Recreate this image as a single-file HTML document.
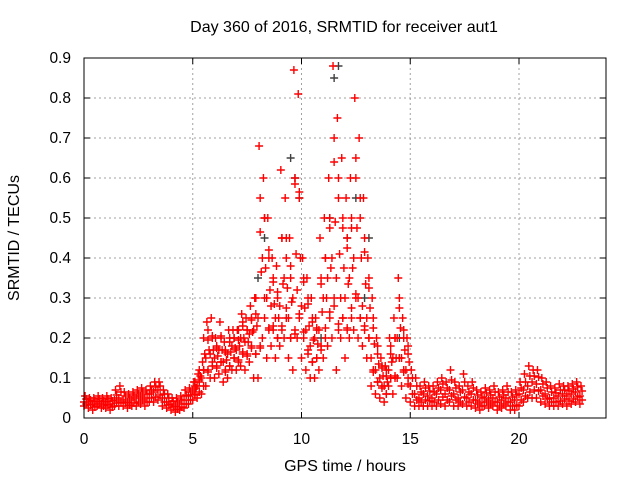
<!DOCTYPE html>
<html><head><meta charset="utf-8"><style>
body{margin:0;background:#fff;}
svg{display:block;font-family:"Liberation Sans",sans-serif;}
</style></head><body>
<svg id="chart" width="640" height="480" viewBox="0 0 640 480" xmlns="http://www.w3.org/2000/svg">
<text x="344" y="32" font-size="16" text-anchor="middle">Day 360 of 2016, SRMTID for receiver aut1</text>
<text transform="translate(19,238) rotate(-90)" font-size="16" text-anchor="middle">SRMTID / TECUs</text>
<text x="345" y="471" font-size="16" text-anchor="middle">GPS time / hours</text>
<g id="grid"></g>
<g id="ticks"></g>
<g id="gray"></g>
<g id="red"></g>
<rect x="84" y="58" width="522" height="360" fill="none" stroke="#000" stroke-width="1"/>
</svg>
<script>
const xTicks=[0,5,10,15,20];
const yTicks=[0,0.1,0.2,0.3,0.4,0.5,0.6,0.7,0.8,0.9];
const yTickLabels=["0","0.1","0.2","0.3","0.4","0.5","0.6","0.7","0.8","0.9"];
const hours=[0,0.2,0.4,0.6,0.8,1,1.2,1.4,1.6,1.8,2,2.2,2.4,2.6,2.8,3,3.2,3.4,3.6,3.8,4,4.2,4.4,4.6,4.8,5,5.2,5.4,5.6,5.8,6,6.2,6.4,6.6,6.8,7,7.2,7.4,7.6,7.8,8,8.2,8.4,8.6,8.8,9,9.2,9.4,9.6,9.8,10,10.2,10.4,10.6,10.8,11,11.2,11.4,11.6,11.8,12,12.2,12.4,12.6,12.8,13,13.2,13.4,13.6,13.8,14,14.2,14.4,14.6,14.8,15,15.2,15.4,15.6,15.8,16,16.2,16.4,16.6,16.8,17,17.2,17.4,17.6,17.8,18,18.2,18.4,18.6,18.8,19,19.2,19.4,19.6,19.8,20,20.2,20.4,20.6,20.8,21,21.2,21.4,21.6,21.8,22,22.2,22.4,22.6,22.8];
const redMid=[.04,.04,.035,.04,.035,.04,.035,.045,.05,.045,.04,.045,.05,.055,.05,.06,.065,.07,.05,.04,.035,.03,.035,.045,.055,.07,.08,.1,.15,.16,.15,.17,.14,.16,.18,.17,.2,.19,.21,.22,.25,.4,.3,.28,.25,.28,.35,.25,.3,.32,.28,.22,.18,.2,.22,.3,.35,.4,.35,.3,.3,.35,.4,.3,.28,.25,.15,.12,.1,.08,.12,.15,.2,.15,.12,.08,.06,.05,.06,.055,.05,.06,.07,.06,.07,.06,.05,.07,.05,.06,.045,.04,.05,.045,.05,.04,.045,.05,.04,.045,.06,.07,.08,.09,.085,.07,.06,.05,.05,.055,.06,.055,.06,.065,.055];
const redLow=[.03,.025,.02,.03,.025,.025,.02,.03,.03,.03,.025,.03,.03,.035,.03,.04,.04,.045,.03,.025,.02,.015,.02,.025,.035,.045,.05,.06,.08,.1,.1,.11,.09,.1,.12,.12,.13,.12,.14,.1,.1,.2,.15,.18,.15,.18,.2,.15,.12,.2,.15,.12,.1,.1,.12,.15,.18,.2,.12,.2,.15,.2,.22,.2,.18,.15,.08,.06,.05,.04,.08,.06,.1,.08,.05,.04,.03,.03,.03,.03,.03,.03,.035,.03,.04,.03,.03,.035,.03,.03,.025,.02,.03,.025,.03,.02,.025,.03,.02,.02,.03,.04,.05,.05,.05,.04,.035,.03,.03,.03,.035,.03,.035,.04,.035];
const redHigh=[.055,.05,.05,.055,.05,.055,.05,.07,.08,.065,.06,.065,.07,.075,.07,.08,.09,.09,.07,.06,.05,.05,.055,.07,.075,.09,.11,.14,.24,.25,.2,.24,.19,.22,.22,.22,.26,.25,.28,.3,.68,.6,.5,.4,.38,.62,.55,.45,.87,.81,.4,.35,.3,.25,.45,.5,.6,.88,.75,.65,.55,.6,.8,.7,.55,.4,.3,.2,.15,.13,.2,.25,.35,.25,.2,.12,.1,.08,.09,.08,.08,.09,.1,.09,.12,.09,.08,.11,.08,.09,.07,.065,.075,.07,.08,.065,.07,.08,.065,.07,.09,.11,.13,.12,.12,.1,.09,.08,.075,.085,.08,.08,.085,.09,.08];
const peakHours=[5.1,5.3,5.5,5.7,5.9,6.1,6.3,6.5,6.7,6.9,7.1,7.3,7.5,7.7,7.9,8.1,8.3,8.5,8.7,8.9,9.1,9.3,9.5,9.7,9.9,10.1,10.3,10.5,10.7,10.9,11.1,11.3,11.5,11.7,11.9,12.1,12.3,12.5,12.7,12.9,13.1,13.3,13.5,13.7,13.9,14.1,14.3,14.5,14.7,14.9];
const peakUpper=[.09,.12,.2,.22,.2,.18,.2,.17,.2,.2,.22,.24,.22,.25,.3,.55,.5,.42,.35,.3,.45,.4,.38,.6,.55,.35,.3,.25,.22,.35,.4,.5,.7,.6,.5,.45,.5,.65,.55,.45,.35,.25,.18,.13,.12,.18,.2,.3,.22,.18];
const peakLower=[.06,.09,.12,.12,.14,.13,.14,.12,.13,.15,.14,.16,.16,.18,.16,.18,.25,.22,.22,.2,.22,.25,.2,.22,.25,.2,.16,.14,.15,.18,.2,.25,.28,.22,.25,.22,.25,.3,.25,.22,.2,.12,.09,.08,.06,.1,.1,.15,.12,.1];
const grayHours=[8.0,8.3,9.5,9.7,9.9,10.9,11.3,11.5,11.7,12.1,12.5,12.9,13.1,14.5];
const grayVals=[.35,.45,.65,.6,.55,.2,.5,.85,.88,.45,.55,.3,.45,.2];

const NS="http://www.w3.org/2000/svg";
const X0=84,X1=606,Y0=418,Y1=58;
const xs=h=>X0+(X1-X0)*h/24;
const ys=v=>Y0-(Y0-Y1)*v/0.9;
function mk(tag,attrs,parent){const e=document.createElementNS(NS,tag);for(const k in attrs)e.setAttribute(k,attrs[k]);parent.appendChild(e);return e;}
const grid=document.getElementById('grid'),ticks=document.getElementById('ticks');
xTicks.forEach(t=>{
  const x=xs(t);
  if(t>0){const g=mk('line',{x1:x,x2:x,y1:Y1,y2:Y0,stroke:'#a0a0a0','stroke-dasharray':'2,3'},grid);
  
  }
  mk('line',{x1:x,x2:x,y1:Y0,y2:Y0-6,stroke:'#000'},ticks);
  mk('line',{x1:x,x2:x,y1:Y1,y2:Y1+6,stroke:'#000'},ticks);
  const l=mk('text',{x:x,y:Y0+26,'font-size':15.5,'text-anchor':'middle'},ticks);l.textContent=t;
  
  
});
yTicks.forEach((t,i)=>{
  const y=ys(t);
  if(t>0&&t<0.9){const g=mk('line',{x1:X0,x2:X1,y1:y,y2:y,stroke:'#a0a0a0','stroke-dasharray':'2,3'},grid);
  
  }
  mk('line',{x1:X0,x2:X0+6,y1:y,y2:y,stroke:'#000'},ticks);
  mk('line',{x1:X1,x2:X1-6,y1:y,y2:y,stroke:'#000'},ticks);
  const l=mk('text',{x:X0-13,y:y+5,'font-size':15.5,'text-anchor':'end'},ticks);l.textContent=yTickLabels[i];
  
  
});
function plus(parent,h,v,col){
  const x=xs(h),y=ys(v);
  const p=mk('path',{d:`M${x-4},${y}h8M${x},${y-4}v8`,stroke:col,'stroke-width':1.4,fill:'none'},parent);
  
  
}
const gray=document.getElementById('gray'),red=document.getElementById('red');
grayHours.forEach((h,i)=>plus(gray,h,grayVals[i],'#404040'));
hours.forEach((h,i)=>{
  plus(red,h,redMid[i],'#ff0000');
  plus(red,h+0.1,(redMid[i]+redLow[i])/2,'#ff0000');
  plus(red,h,redLow[i],'#ff0000');
  plus(red,h+0.1,(redMid[i]+redHigh[i])/2,'#ff0000');
  plus(red,h+0.05,redHigh[i],'#ff0000');
});
peakHours.forEach((h,i)=>{
  plus(red,h,peakUpper[i],'#ff0000');
  plus(red,h,peakLower[i],'#ff0000');
  plus(red,h+0.05,(peakUpper[i]+peakLower[i])/2,'#ff0000');
});
</script>
</body></html>
